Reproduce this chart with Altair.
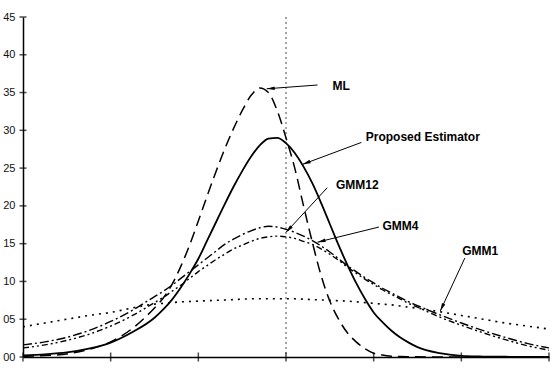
import math
import altair as alt
import pandas as pd

# ---------------- data ----------------
x_grid = [0, 0.25, 0.5, 0.75, 1.0, 1.25, 1.5, 1.6, 1.7, 1.8, 1.9, 2.0, 2.1, 2.2, 2.3,
          2.4, 2.5, 2.6, 2.7, 2.8, 2.9, 3.0, 3.1, 3.2, 3.3, 3.4, 3.5, 3.6, 3.7, 3.8,
          3.9, 4.0, 4.1, 4.2, 4.3, 4.4, 4.5, 4.75, 5.0, 5.25, 5.5, 5.75, 6.0]

ml = [0.1, 0.2, 0.4, 1.0, 2.0, 3.8, 6.5, 7.8, 9.6, 12.0, 14.8, 18.0, 21.3, 24.5, 27.5,
      30.2, 32.6, 34.6, 35.6, 35.0, 32.6, 29.0, 25.0, 20.0, 15.2, 10.8, 7.4, 5.0, 3.2, 2.0,
      1.1, 0.5, 0.25, 0.1, 0.05, 0.03, 0.02, 0.01, 0.0, 0.0, 0.0, 0.0, 0.0]

proposed = [0.2, 0.35, 0.6, 1.1, 1.9, 3.3, 5.2, 6.3, 7.6, 9.2, 11.0, 13.0, 15.4, 17.8, 20.2,
            22.5, 24.6, 26.5, 28.0, 28.9, 29.0, 28.3, 27.0, 25.2, 23.0, 20.4, 17.6, 14.8, 12.2, 9.8,
            7.7, 5.9, 4.6, 3.5, 2.6, 1.9, 1.3, 0.5, 0.15, 0.06, 0.03, 0.02, 0.01]

gmm12 = [1.6, 2.0, 2.6, 3.5, 4.7, 6.2, 8.0, 8.7, 9.5, 10.4, 11.3, 12.2, 13.1, 14.0, 14.9,
         15.6, 16.2, 16.7, 17.1, 17.3, 17.2, 16.9, 16.5, 16.0, 15.4, 14.7, 13.9, 13.0, 12.1, 11.3,
         10.5, 9.8, 9.1, 8.5, 7.9, 7.3, 6.8, 5.6, 4.5, 3.5, 2.6, 1.8, 1.2]

gmm4 = [1.2, 1.6, 2.2, 3.0, 4.1, 5.5, 7.2, 7.9, 8.7, 9.5, 10.4, 11.3, 12.1, 12.9, 13.6,
        14.3, 14.8, 15.3, 15.7, 15.9, 16.0, 15.9, 15.7, 15.3, 14.9, 14.3, 13.6, 12.8, 11.9, 11.1,
        10.3, 9.6, 8.9, 8.3, 7.7, 7.1, 6.6, 5.3, 4.2, 3.2, 2.3, 1.5, 0.9]

gmm1 = [4.0, 4.5, 5.0, 5.5, 5.9, 6.5, 7.0, 7.1, 7.2, 7.3, 7.35, 7.4, 7.45, 7.5, 7.55,
        7.6, 7.65, 7.7, 7.7, 7.7, 7.7, 7.7, 7.7, 7.65, 7.6, 7.55, 7.5, 7.45, 7.4, 7.3,
        7.2, 7.1, 7.0, 6.9, 6.75, 6.6, 6.45, 6.0, 5.5, 5.0, 4.5, 4.1, 3.7]

y_ticks = [0, 5, 10, 15, 20, 25, 30, 35, 40, 45]
x_ticks = [0, 1, 2, 3, 4, 5, 6]
true_value = [3.0]

labels = ["ML", "Proposed Estimator", "GMM12", "GMM4", "GMM1"]
label_x = [3.53, 3.91, 3.57, 4.10, 5.01]
label_y = [35.9, 29.1, 22.8, 17.3, 14.0]
arrow_from_x = [3.36, 3.86, 3.47, 4.06, 5.04]
arrow_from_y = [36.0, 28.4, 22.4, 17.2, 13.1]
arrow_to_x = [2.78, 3.19, 3.00, 3.36, 4.76]
arrow_to_y = [35.5, 25.5, 16.5, 15.2, 6.1]

# ---------------- layout ----------------
W, H = 526, 340
X_MAX, Y_MAX = 6, 45
sx, sy = W / X_MAX, H / Y_MAX

xs = alt.Scale(domain=[0, X_MAX], nice=False, zero=False)
ys = alt.Scale(domain=[0, Y_MAX], nice=False, zero=False)
x_axis = alt.Axis(title=None, labels=False, ticks=False, grid=False,
                  domainColor="black", domainWidth=1.5)
y_axis = alt.Axis(title=None, values=y_ticks, format="02d", ticks=False, grid=False,
                  domainColor="black", domainWidth=1.5, labelFont="Liberation Sans",
                  labelFontSize=11, labelColor="#111", labelPadding=8)

curves = pd.DataFrame({"x": x_grid, "ml": ml, "proposed": proposed,
                       "gmm12": gmm12, "gmm4": gmm4, "gmm1": gmm1})


def curve(field, dash, width=1.5):
    kw = dict(color="black", strokeWidth=width, interpolate="monotone", clip=True)
    if dash:
        kw["strokeDash"] = dash
    return alt.Chart(curves).mark_line(**kw).encode(
        x=alt.X("x:Q", scale=xs, axis=x_axis),
        y=alt.Y(f"{field}:Q", scale=ys, axis=y_axis),
    )


layers = [
    curve("gmm1", [2, 5], 1.6),
    curve("gmm4", [6, 3, 2, 3, 2, 3], 1.4),
    curve("gmm12", [9, 3, 2, 3], 1.4),
    curve("ml", [11, 6], 1.5),
    curve("proposed", None, 1.8),
]

vline = alt.Chart(pd.DataFrame({"t": true_value})).mark_rule(
    color="#888", strokeDash=[2, 3], strokeWidth=1.5
).encode(x=alt.X("t:Q", scale=xs, axis=x_axis))

ytick = alt.Chart(pd.DataFrame({"v": y_ticks})).mark_tick(
    color="black", orient="horizontal", size=7, thickness=1.5
).encode(x=alt.value(0), y=alt.Y("v:Q", scale=ys, axis=y_axis))

xtick = alt.Chart(pd.DataFrame({"v": x_ticks})).mark_tick(
    color="black", orient="vertical", size=9, thickness=1.5
).encode(x=alt.X("v:Q", scale=xs, axis=x_axis), y=alt.value(H))

# arrows
HEAD_SIZE = 64
head_r = math.sqrt(HEAD_SIZE) / 2
rows = []
for lab, lx, ly, fx, fy, tx, ty in zip(labels, label_x, label_y, arrow_from_x,
                                       arrow_from_y, arrow_to_x, arrow_to_y):
    dx = (tx - fx) * sx
    dy = -(ty - fy) * sy
    L = math.hypot(dx, dy)
    ang = math.degrees(math.atan2(dx, -dy)) % 360
    hx = tx - dx / L * head_r / sx
    hy = ty + dy / L * head_r / sy
    rows.append(dict(label=lab, lx=lx, ly=ly, fx=fx, fy=fy, tx=tx, ty=ty,
                     hx=hx, hy=hy, ang=ang))
ann = pd.DataFrame(rows)

arrow_lines = alt.Chart(ann).mark_rule(color="black", strokeWidth=1).encode(
    x=alt.X("fx:Q", scale=xs, axis=x_axis), y=alt.Y("fy:Q", scale=ys, axis=y_axis),
    x2="tx:Q", y2="ty:Q")

arrow_heads = alt.Chart(ann).mark_point(
    shape="M0,-1L0.45,1L-0.45,1Z", filled=True, color="black", size=HEAD_SIZE,
    opacity=1, strokeWidth=0
).encode(x=alt.X("hx:Q", scale=xs, axis=x_axis), y=alt.Y("hy:Q", scale=ys, axis=y_axis),
         angle=alt.Angle("ang:Q", scale=None))

texts = alt.Chart(ann).mark_text(
    align="left", baseline="middle", font="Liberation Sans", fontWeight="bold",
    fontSize=12, color="black"
).encode(x=alt.X("lx:Q", scale=xs, axis=x_axis), y=alt.Y("ly:Q", scale=ys, axis=y_axis),
         text="label:N")

chart = alt.layer(vline, *layers, arrow_lines, arrow_heads, texts, ytick, xtick).properties(
    width=W, height=H,
    autosize=alt.AutoSizeParams(type="none"),
    padding={"left": 23, "top": 17, "right": 7, "bottom": 13},
    background="white",
).configure_view(stroke=None)

chart.save("out.html", embed_options={"renderer": "svg", "actions": False})
